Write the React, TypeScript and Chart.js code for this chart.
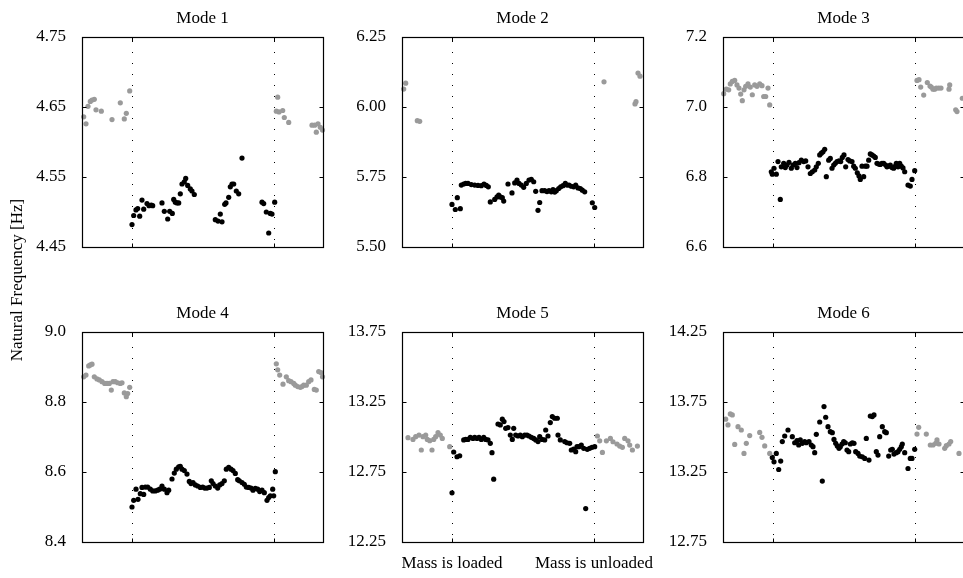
import React, { useEffect, useRef } from 'react';
import { Chart, registerables } from 'chart.js';

Chart.register(...registerables);

const FONT = '"Liberation Serif", "Times New Roman", Times, serif';

// ---- shared x-axis (time, arbitrary units) ----
const timeRange = [0, 241];
const eventTimes = [50, 192];
const eventLabels = ['Mass is loaded', 'Mass is unloaded'];
const yAxisTitle = 'Natural Frequency [Hz]';

// ---- Mode 1 ----
const m1Ticks = [4.45, 4.55, 4.65, 4.75];
const m1GrayT = [1.7, 4, 6, 8.3, 10, 12.3, 14, 19.3, 30, 38.3, 42.3, 44.3, 47.7, 194.3, 195.7, 197, 200.7, 202.3, 206.7, 230, 232.7, 234.3, 236, 238.3, 240.5];
const m1GrayF = [4.636, 4.626, 4.651, 4.658, 4.660, 4.661, 4.646, 4.644, 4.632, 4.656, 4.633, 4.641, 4.673, 4.644, 4.664, 4.643, 4.645, 4.635, 4.628, 4.624, 4.624, 4.614, 4.626, 4.621, 4.617];
const m1BlackT = [50, 51.7, 54, 55.7, 57.7, 60, 61.7, 65, 67, 69.3, 70.7, 80, 82.3, 85.7, 87.7, 90.3, 91.7, 93.3, 95, 96.7, 98.3, 100, 102.3, 103.7, 105.7, 108.3, 110, 112.3, 133.3, 136, 138.3, 140, 142.7, 144, 146.7, 148.3, 150, 151.7, 154.3, 156.7, 160, 180, 181.7, 184.3, 186.7, 188.3, 190, 192.7];
const m1BlackF = [4.482, 4.495, 4.503, 4.505, 4.494, 4.517, 4.504, 4.512, 4.509, 4.510, 4.509, 4.513, 4.501, 4.490, 4.501, 4.498, 4.518, 4.514, 4.513, 4.513, 4.526, 4.540, 4.543, 4.548, 4.538, 4.533, 4.530, 4.525, 4.489, 4.487, 4.497, 4.486, 4.511, 4.513, 4.521, 4.536, 4.540, 4.540, 4.530, 4.526, 4.577, 4.514, 4.512, 4.500, 4.470, 4.498, 4.497, 4.514];

// ---- Mode 2 ----
const m2Ticks = [5.5, 5.75, 6.0, 6.25];
const m2GrayT = [1.7, 3.7, 15.3, 17.7, 202, 233, 234, 236, 238];
const m2GrayF = [6.064, 6.085, 5.951, 5.949, 6.090, 6.011, 6.019, 6.121, 6.110];
const m2BlackT = [50, 53.3, 55.3, 58.3, 59.3, 61.7, 63.7, 66, 69.3, 72.7, 76, 79.3, 82, 84.3, 86.3, 88.3, 92.7, 95, 96.7, 98.3, 100.3, 101.7, 106, 110, 112.7, 115, 117, 119.3, 121.7, 124.3, 127, 129.3, 131.7, 133.7, 136, 137.7, 140, 142.7, 145, 147, 149.3, 151, 152.7, 154.3, 156.7, 158.7, 161, 163.3, 165, 167, 169.3, 171.7, 173.7, 176, 178.3, 180.3, 182.7, 190.3, 192.7];
const m2BlackF = [5.652, 5.634, 5.676, 5.637, 5.721, 5.725, 5.727, 5.727, 5.723, 5.721, 5.720, 5.719, 5.725, 5.720, 5.715, 5.661, 5.670, 5.679, 5.685, 5.679, 5.676, 5.664, 5.725, 5.693, 5.729, 5.739, 5.727, 5.721, 5.713, 5.727, 5.739, 5.742, 5.733, 5.699, 5.631, 5.659, 5.701, 5.701, 5.698, 5.701, 5.697, 5.705, 5.696, 5.701, 5.709, 5.715, 5.719, 5.727, 5.721, 5.721, 5.717, 5.715, 5.721, 5.711, 5.709, 5.703, 5.697, 5.658, 5.641];

// ---- Mode 3 ----
const m3Ticks = [6.6, 6.8, 7.0, 7.2];
const m3GrayT = [0.7, 3.3, 5.7, 7.3, 9.3, 11.7, 14, 16, 17.7, 19.3, 21, 22.7, 25, 27.3, 29.3, 31.7, 34, 36.7, 39, 40.7, 42.7, 45, 46.7, 194, 196, 197.7, 200.7, 204.3, 207, 208.3, 210, 211.7, 213.3, 215.7, 218, 226, 226.7, 232.7, 234, 239.3];
const m3GrayF = [7.038, 7.051, 7.049, 7.066, 7.073, 7.076, 7.063, 7.054, 7.037, 7.018, 7.049, 7.059, 7.066, 7.057, 7.035, 7.063, 7.059, 7.066, 7.061, 7.030, 7.030, 7.054, 7.006, 7.076, 7.078, 7.057, 7.034, 7.070, 7.060, 7.057, 7.051, 7.051, 7.054, 7.054, 7.054, 7.051, 7.063, 6.992, 6.987, 7.025];
const m3BlackT = [48.3, 49.3, 51, 53.3, 55, 57.3, 58.3, 60.7, 62.3, 64, 66, 68.3, 70, 72.3, 74, 76, 78.3, 80.7, 82.7, 85, 87.3, 89.3, 91.7, 93.3, 95.3, 96.7, 98.3, 100, 101.7, 103.3, 105.7, 107.3, 109, 110.7, 112.3, 114, 116, 117.7, 119.3, 121, 122.7, 125, 126.7, 129, 130.7, 132.3, 134.3, 136, 137.3, 139, 140.7, 142.3, 144, 145.7, 147.3, 149, 150.7, 152.3, 154, 155.7, 157.3, 159, 160.7, 162.7, 164, 165.7, 167.3, 169, 170.7, 172.3, 173.3, 175, 176.7, 178.3, 180, 181.7, 185, 187.3, 189, 191.7];
const m3BlackF = [6.815, 6.808, 6.825, 6.808, 6.844, 6.736, 6.829, 6.839, 6.827, 6.834, 6.842, 6.825, 6.834, 6.839, 6.827, 6.841, 6.848, 6.844, 6.846, 6.829, 6.810, 6.815, 6.820, 6.829, 6.839, 6.863, 6.868, 6.872, 6.879, 6.801, 6.848, 6.853, 6.825, 6.834, 6.839, 6.844, 6.846, 6.844, 6.856, 6.863, 6.829, 6.850, 6.846, 6.844, 6.831, 6.825, 6.812, 6.803, 6.793, 6.831, 6.801, 6.831, 6.831, 6.848, 6.866, 6.863, 6.860, 6.856, 6.839, 6.837, 6.836, 6.839, 6.839, 6.834, 6.829, 6.831, 6.834, 6.827, 6.825, 6.831, 6.839, 6.829, 6.839, 6.831, 6.826, 6.815, 6.777, 6.774, 6.793, 6.818];

// ---- Mode 4 ----
const m4Ticks = [8.4, 8.6, 8.8, 9.0];
const m4GrayT = [1.7, 4, 6.7, 8.3, 10, 12.3, 15, 17.3, 20, 22.7, 25, 27.3, 29.3, 31, 33.3, 35.7, 38.3, 40, 42.3, 44.3, 45.7, 47.7, 194.3, 195.7, 197.7, 201, 204.3, 206.7, 209, 211.7, 213.3, 215.7, 218.3, 220, 221.7, 224.3, 226.7, 229, 232.3, 234.3, 236.7, 239, 240.5];
const m4GrayF = [8.872, 8.877, 8.903, 8.906, 8.908, 8.872, 8.866, 8.863, 8.858, 8.853, 8.853, 8.853, 8.834, 8.858, 8.858, 8.855, 8.853, 8.855, 8.826, 8.815, 8.824, 8.842, 8.909, 8.892, 8.877, 8.851, 8.872, 8.861, 8.858, 8.853, 8.848, 8.844, 8.842, 8.844, 8.848, 8.848, 8.858, 8.863, 8.836, 8.834, 8.887, 8.884, 8.872];
const m4BlackT = [50, 51.7, 54, 56, 58.3, 60, 61.7, 63.3, 65.7, 68.3, 70.7, 73.3, 75.7, 77.7, 80, 82.3, 85, 86.7, 90, 92.3, 94.3, 96.7, 98.3, 100, 102.3, 105, 107.3, 109, 111, 113.3, 115.7, 118.3, 120.7, 122.7, 125, 127.3, 129.3, 131, 133.3, 135.7, 137.7, 140, 142.3, 144.3, 146.7, 149, 151, 153.3, 155.7, 157.3, 160, 162.3, 164.3, 166.7, 169, 171, 173.3, 175.7, 177.7, 180, 182.3, 185, 186.7, 188.3, 190.7, 191.7, 193.3];
const m4BlackF = [8.500, 8.519, 8.551, 8.522, 8.538, 8.556, 8.536, 8.557, 8.557, 8.551, 8.546, 8.546, 8.548, 8.551, 8.560, 8.551, 8.541, 8.548, 8.580, 8.597, 8.608, 8.615, 8.616, 8.608, 8.604, 8.594, 8.573, 8.567, 8.570, 8.563, 8.560, 8.556, 8.557, 8.554, 8.554, 8.556, 8.575, 8.567, 8.560, 8.554, 8.563, 8.567, 8.575, 8.608, 8.613, 8.608, 8.604, 8.596, 8.578, 8.575, 8.570, 8.565, 8.557, 8.556, 8.554, 8.548, 8.553, 8.551, 8.544, 8.548, 8.541, 8.519, 8.527, 8.532, 8.551, 8.532, 8.601];

// ---- Mode 5 ----
const m5Ticks = [12.25, 12.75, 13.25, 13.75];
const m5GrayT = [6, 11, 13.7, 17, 19.3, 21, 23.7, 25.3, 27.7, 30, 31.7, 33.7, 36, 38.3, 40.3, 47.7, 195.4, 197.7, 200.4, 204.4, 208.4, 211, 215, 217.7, 220.4, 222.7, 226, 227.7, 230.4, 235.4];
const m5GrayF = [12.995, 12.983, 13.002, 13.014, 12.907, 13.002, 13.014, 12.983, 12.974, 12.907, 12.983, 13.002, 13.031, 13.014, 12.990, 12.931, 13.007, 12.973, 12.890, 12.973, 12.990, 12.966, 12.950, 12.935, 12.926, 12.990, 12.973, 12.942, 12.907, 12.935];
const m5BlackT = [50, 51.7, 55, 57.7, 61.7, 63.7, 66, 68.3, 71, 72.7, 75, 77, 79.3, 81.7, 83.7, 86, 88.3, 90, 91.7, 96, 98.3, 100.3, 102, 103.7, 106, 108.3, 110.3, 111.7, 113.7, 116, 118.3, 120.3, 122.7, 125, 127, 129.3, 131.7, 133.7, 136, 137.7, 140, 142.7, 143.7, 146, 148.3, 150.3, 152.7, 155.3, 156, 158.3, 162.7, 165, 167.7, 169.3, 171.7, 173.7, 175, 177, 179.3, 181.7, 183.7, 185.3, 187.7, 190, 192.7];
const m5BlackF = [12.601, 12.893, 12.859, 12.866, 12.979, 12.983, 12.983, 12.998, 12.990, 12.998, 12.990, 12.998, 12.983, 12.998, 12.983, 12.979, 12.955, 12.888, 12.699, 13.093, 13.086, 13.127, 13.110, 13.062, 13.067, 13.014, 12.983, 13.062, 13.014, 13.007, 13.014, 13.002, 13.014, 13.014, 13.007, 12.998, 12.990, 12.979, 12.967, 13.002, 12.983, 12.979, 13.050, 13.007, 13.103, 13.146, 13.134, 13.134, 13.014, 12.979, 12.967, 12.959, 12.955, 12.907, 12.914, 12.895, 12.931, 12.931, 12.943, 12.919, 12.489, 12.912, 12.919, 12.926, 12.931];

// ---- Mode 6 ----
const m6Ticks = [12.75, 13.25, 13.75, 14.25];
const m6GrayT = [2.7, 5, 7.3, 9.3, 11.7, 15, 18.3, 21, 23.3, 26.7, 36.7, 39, 41.7, 46.7, 194, 195.7, 203.3, 207.3, 210, 212.7, 214, 216, 221.7, 223.3, 226, 227.7, 236];
const m6GrayF = [13.627, 13.586, 13.665, 13.658, 13.447, 13.574, 13.550, 13.383, 13.455, 13.510, 13.533, 13.498, 13.436, 13.383, 13.521, 13.569, 13.521, 13.443, 13.443, 13.455, 13.479, 13.450, 13.419, 13.438, 13.450, 13.467, 13.383];
const m6BlackT = [49.3, 51, 53.3, 55.7, 57.7, 59.3, 61.7, 65, 69.3, 71.7, 74, 75.7, 77.3, 79.3, 81.7, 83.3, 86, 88.3, 90, 91.7, 93.3, 96.7, 99.3, 101, 102.7, 105, 107.3, 109.3, 111, 112.7, 114.3, 116, 117.3, 119, 120.7, 122.3, 124, 125.7, 127.3, 129.3, 131, 132.7, 135, 136.7, 139.3, 141.7, 143.3, 146, 147.3, 149.3, 151, 153.3, 155, 156.7, 159.3, 161.7, 163.3, 165.7, 167.7, 169.3, 171, 173.3, 175, 176.7, 178.3, 179.3, 181.7, 185, 187.3, 189, 191.7];
const m6BlackF = [13.354, 13.323, 13.383, 13.268, 13.328, 13.467, 13.507, 13.550, 13.502, 13.459, 13.474, 13.443, 13.479, 13.455, 13.467, 13.459, 13.467, 13.443, 13.431, 13.388, 13.519, 13.607, 13.185, 13.717, 13.641, 13.574, 13.538, 13.531, 13.483, 13.455, 13.436, 13.419, 13.431, 13.450, 13.467, 13.459, 13.407, 13.395, 13.450, 13.459, 13.455, 13.395, 13.383, 13.364, 13.359, 13.347, 13.490, 13.335, 13.650, 13.646, 13.658, 13.395, 13.371, 13.502, 13.574, 13.538, 13.531, 13.364, 13.407, 13.412, 13.378, 13.388, 13.395, 13.412, 13.431, 13.450, 13.388, 13.275, 13.347, 13.347, 13.412];

// ---- styling / layout constants ----
const GRAY = '#9a9a9a';
const BLACK = '#000000';
const PLOT_W = 241;
const PLOT_H = 210;
const Y_AXIS_W = 60;
const TITLE_H = 32;
const X_AXIS_H = 36;
const RIGHT_PAD = 44;
const CANVAS_W = Y_AXIS_W + PLOT_W + RIGHT_PAD;
const CANVAS_H = TITLE_H + PLOT_H + X_AXIS_H;

type PanelDef = {
  title: string;
  ticks: number[];
  dec: number;
  grayT: number[];
  grayF: number[];
  blackT: number[];
  blackF: number[];
  showEvents: boolean;
  plotLeft: number;
  plotTop: number;
};

const panels: PanelDef[] = [
  { title: 'Mode 1', ticks: m1Ticks, dec: 2, grayT: m1GrayT, grayF: m1GrayF, blackT: m1BlackT, blackF: m1BlackF, showEvents: false, plotLeft: 82, plotTop: 37 },
  { title: 'Mode 2', ticks: m2Ticks, dec: 2, grayT: m2GrayT, grayF: m2GrayF, blackT: m2BlackT, blackF: m2BlackF, showEvents: false, plotLeft: 402, plotTop: 37 },
  { title: 'Mode 3', ticks: m3Ticks, dec: 1, grayT: m3GrayT, grayF: m3GrayF, blackT: m3BlackT, blackF: m3BlackF, showEvents: false, plotLeft: 723, plotTop: 37 },
  { title: 'Mode 4', ticks: m4Ticks, dec: 1, grayT: m4GrayT, grayF: m4GrayF, blackT: m4BlackT, blackF: m4BlackF, showEvents: false, plotLeft: 82, plotTop: 332 },
  { title: 'Mode 5', ticks: m5Ticks, dec: 2, grayT: m5GrayT, grayF: m5GrayF, blackT: m5BlackT, blackF: m5BlackF, showEvents: true, plotLeft: 402, plotTop: 332 },
  { title: 'Mode 6', ticks: m6Ticks, dec: 2, grayT: m6GrayT, grayF: m6GrayF, blackT: m6BlackT, blackF: m6BlackF, showEvents: false, plotLeft: 723, plotTop: 332 },
];

const zip = (t: number[], f: number[]) => t.map((x, i) => ({ x, y: f[i] }));

const framePlugin = {
  id: 'matlabFrame',
  beforeDatasetsDraw(chart: any) {
    const { ctx, chartArea: a, scales } = chart;
    const x = scales.x;
    ctx.save();
    ctx.strokeStyle = '#000';
    ctx.lineWidth = 1;
    ctx.setLineDash([1, 10]);
    for (const v of eventTimes) {
      const px = Math.round(x.getPixelForValue(v)) + 0.5;
      ctx.beginPath();
      ctx.moveTo(px, a.top + 4);
      ctx.lineTo(px, a.bottom);
      ctx.stroke();
    }
    ctx.restore();
  },
  afterDatasetsDraw(chart: any) {
    const { ctx, chartArea: a, scales } = chart;
    const x = scales.x;
    const y = scales.y;
    const L = Math.round(a.left) + 0.5;
    const R = Math.round(a.right) + 0.5;
    const T = Math.round(a.top) + 0.5;
    const B = Math.round(a.bottom) + 0.5;
    ctx.save();
    ctx.strokeStyle = '#000';
    ctx.lineWidth = 1;
    ctx.setLineDash([]);
    ctx.beginPath();
    for (const t of y.ticks) {
      const py = Math.round(y.getPixelForValue(t.value)) + 0.5;
      ctx.moveTo(L, py);
      ctx.lineTo(L + 4, py);
      ctx.moveTo(R, py);
      ctx.lineTo(R - 4, py);
    }
    for (const v of eventTimes) {
      const px = Math.round(x.getPixelForValue(v)) + 0.5;
      ctx.moveTo(px, B);
      ctx.lineTo(px, B - 4);
      ctx.moveTo(px, T);
      ctx.lineTo(px, T + 4);
    }
    ctx.stroke();
    ctx.lineWidth = 1.2;
    ctx.strokeRect(L, T, R - L, B - T);
    ctx.restore();
  },
};

function Panel({ def }: { def: PanelDef }) {
  const ref = useRef<HTMLCanvasElement | null>(null);
  useEffect(() => {
    if (!ref.current) return;
    const tickFont = { family: FONT, size: 17, weight: 'normal' as const, lineHeight: 1.2 };
    const titlePadTop = 3;
    const chart = new Chart(ref.current, {
      type: 'scatter',
      data: {
        datasets: [
          {
            data: zip(def.grayT, def.grayF),
            backgroundColor: GRAY,
            borderColor: GRAY,
            borderWidth: 0,
            pointRadius: 2.6,
            pointHoverRadius: 2.6,
            clip: false,
          },
          {
            data: zip(def.blackT, def.blackF),
            backgroundColor: BLACK,
            borderColor: BLACK,
            borderWidth: 0,
            pointRadius: 2.6,
            pointHoverRadius: 2.6,
            clip: false,
          },
        ],
      },
      options: {
        animation: false,
        responsive: false,
        devicePixelRatio: 1,
        events: [],
        layout: { padding: { left: 0, right: RIGHT_PAD, top: 0, bottom: 0 }, autoPadding: false },
        plugins: {
          legend: { display: false },
          tooltip: { enabled: false },
          title: {
            display: true,
            text: def.title,
            fullSize: false,
            color: '#000',
            font: tickFont,
            padding: { top: titlePadTop, bottom: TITLE_H - 20.4 - titlePadTop },
          },
        },
        scales: {
          x: {
            type: 'linear',
            min: timeRange[0],
            max: timeRange[1],
            grid: { display: false },
            border: { display: false },
            afterBuildTicks: (scale: any) => {
              scale.ticks = eventTimes.map((v) => ({ value: v }));
            },
            afterFit: (scale: any) => {
              scale.height = X_AXIS_H;
              scale.paddingLeft = 0;
              scale.paddingRight = 0;
            },
            ticks: {
              autoSkip: false,
              maxRotation: 0,
              minRotation: 0,
              padding: 3,
              color: '#000',
              font: tickFont,
              callback: (_v: any, i: number) => (def.showEvents ? eventLabels[i] : ''),
            },
          },
          y: {
            type: 'linear',
            min: def.ticks[0],
            max: def.ticks[def.ticks.length - 1],
            grid: { display: false },
            border: { display: false },
            afterBuildTicks: (scale: any) => {
              scale.ticks = def.ticks.map((v) => ({ value: v }));
            },
            afterFit: (scale: any) => {
              scale.width = Y_AXIS_W;
              scale.paddingTop = 0;
              scale.paddingBottom = 0;
            },
            ticks: {
              autoSkip: false,
              padding: 8,
              color: '#000',
              font: tickFont,
              callback: (v: any) => Number(v).toFixed(def.dec),
            },
          },
        },
      },
      plugins: [framePlugin],
    } as any);
    return () => chart.destroy();
  }, [def]);

  return (
    <canvas
      ref={ref}
      width={CANVAS_W}
      height={CANVAS_H}
      style={{
        position: 'absolute',
        left: def.plotLeft - Y_AXIS_W,
        top: def.plotTop - TITLE_H,
        width: CANVAS_W,
        height: CANVAS_H,
      }}
    />
  );
}

export default function App() {
  return (
    <div
      style={{
        position: 'absolute',
        left: 0,
        top: 0,
        width: 963,
        height: 578,
        overflow: 'hidden',
        background: '#fff',
      }}
    >
      {panels.map((p) => (
        <Panel key={p.title} def={p} />
      ))}
      <div
        style={{
          position: 'absolute',
          left: 17 - 110,
          top: 280 - 10,
          width: 220,
          height: 20,
          lineHeight: '20px',
          textAlign: 'center',
          fontFamily: FONT,
          fontSize: 17,
          color: '#000',
          transform: 'rotate(-90deg)',
          transformOrigin: '50% 50%',
          whiteSpace: 'nowrap',
        }}
      >
        {yAxisTitle}
      </div>
    </div>
  );
}
